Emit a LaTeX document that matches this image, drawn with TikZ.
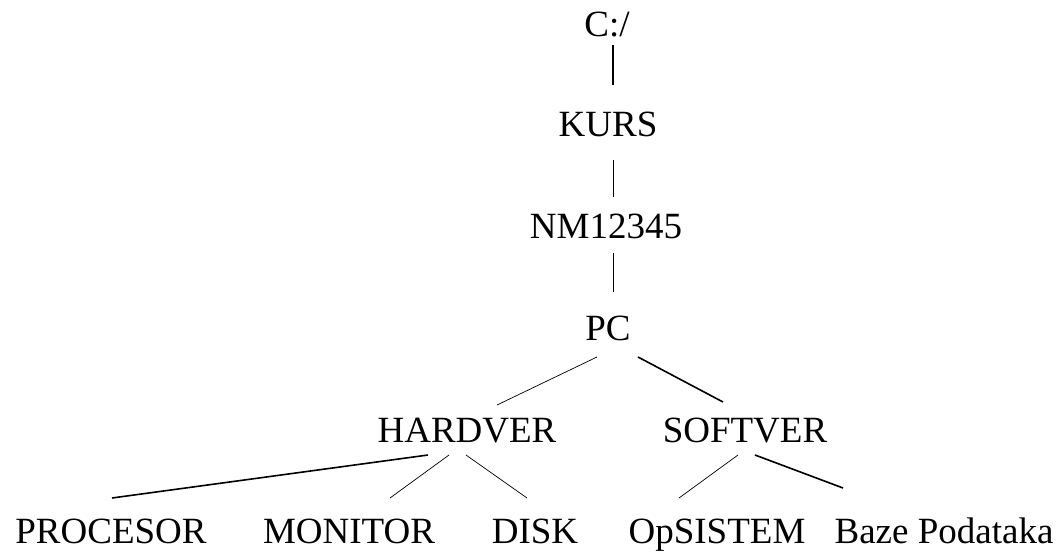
\documentclass[tikz,border=0pt]{standalone}
\usepackage{fontspec}
\setmainfont{Liberation Serif}
\usetikzlibrary{calc}
\tikzset{
  lbl/.style={anchor=base, inner sep=0pt, font=\fontsize{37}{41}\selectfont},
  thinline/.style={line width=0.7pt},
  thickline/.style={line width=1.6pt}
}
\begin{document}
\begin{tikzpicture}[x=1pt,y=1pt]
\useasboundingbox (0,0) rectangle (1060,-554);
\node[lbl] (c)    at (607,-36)  {C:/};
\node[lbl] (kurs) at (608,-136) {KURS};
\node[lbl] (nm)   at (606,-238) {NM12345};
\node[lbl] (pc)   at (608,-340) {PC};
\node[lbl] (hw)   at (467,-442) {HARDVER};
\node[lbl] (sw)   at (745,-442) {SOFTVER};
\node[lbl] (proc) at (111,-543) {PROCESOR};
\node[lbl] (mon)  at (349,-543) {MONITOR};
\node[lbl] (disk) at (535,-543) {DISK};
\node[lbl] (os)   at (717,-543) {OpSISTEM};
\node[lbl] (baze) at (944,-543) {Baze Podataka};

\draw[thickline] ($(c.base)+(6,-9)$) -- ($(kurs.base)+(5,51)$);
\draw[thinline] ($(kurs.base)+(5,-24)$) -- ($(nm.base)+(7,41)$);
\draw[thinline] ($(nm.base)+(7,-15)$) -- ($(pc.base)+(5,48)$);
\draw[thinline] ($(pc.base)+(-11,-17)$) -- ($(hw.base)+(30,37)$);
\draw[thickline] ($(pc.base)+(30,-17)$) -- ($(sw.base)+(-22,40)$);
\draw[thickline] ($(hw.base)+(-39,-13)$) -- ($(proc.base)+(1,45)$);
\draw[thinline] ($(hw.base)+(-18,-13)$) -- ($(mon.base)+(41,45)$);
\draw[thinline] ($(hw.base)+(-1,-13)$) -- ($(disk.base)+(-8,45)$);
\draw[thinline] ($(sw.base)+(-7,-13)$) -- ($(os.base)+(-38,45)$);
\draw[thickline] ($(sw.base)+(10,-13)$) -- ($(baze.base)+(-101,55)$);
\end{tikzpicture}
\end{document}
